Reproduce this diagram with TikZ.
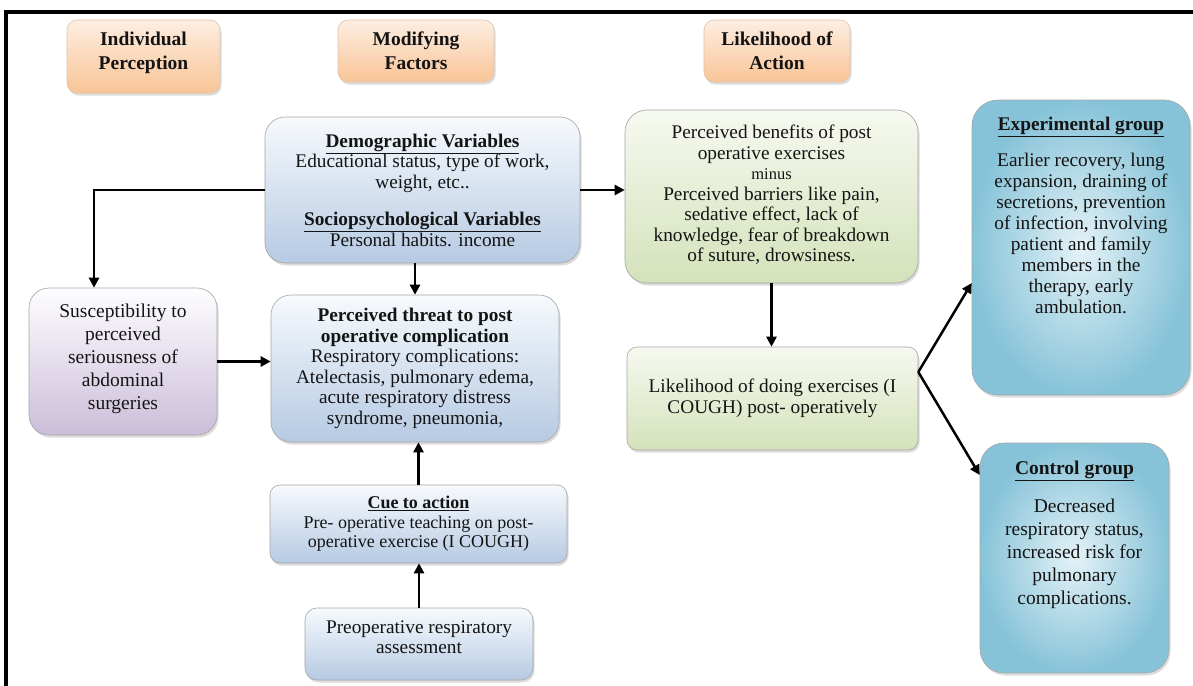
\documentclass[tikz,border=0pt]{standalone}
\usepackage{fontspec}
\setmainfont{Liberation Serif}
\usetikzlibrary{arrows.meta,shadows}
\definecolor{hdrTop}{RGB}{253,238,226}
\definecolor{hdrBot}{RGB}{249,196,150}
\definecolor{hdrLine}{RGB}{225,195,170}
\definecolor{bluTop}{RGB}{247,250,253}
\definecolor{bluBot}{RGB}{182,202,227}
\definecolor{grnTop}{RGB}{246,249,240}
\definecolor{grnBot}{RGB}{212,226,186}
\definecolor{purTop}{RGB}{254,253,255}
\definecolor{purBot}{RGB}{203,190,217}
\definecolor{tealIn}{RGB}{228,242,247}
\definecolor{tealOut}{RGB}{135,195,216}
\definecolor{boxLine}{RGB}{165,165,165}
\newcommand{\fBody}{\fontsize{19.3}{20.5}\selectfont}
\newcommand{\fBig}{\fontsize{19.5}{23}\selectfont}
\newcommand{\fCue}{\fontsize{18}{19.5}\selectfont}
\newcommand{\fHdr}{\fontsize{19.5}{24}\selectfont\bfseries}
\newcommand{\fMinus}{\fontsize{16.5}{20}\selectfont}
\tikzset{
  box/.style={draw=boxLine, line width=0.6pt, align=center, inner sep=0pt,
    text=black!92, drop shadow={shadow xshift=1.5pt, shadow yshift=-2.5pt, opacity=0.3, fill=black!45}},
  hdr/.style={box, draw=hdrLine, top color=hdrTop, bottom color=hdrBot, rounded corners=10pt, font=\fHdr},
  blu/.style={box, top color=bluTop, bottom color=bluBot, font=\fBody},
  grn/.style={box, top color=grnTop, bottom color=grnBot, font=\fBody},
  pur/.style={box, top color=purTop, bottom color=purBot, font=\fBig},
  tea/.style={box, inner color=tealIn, outer color=tealOut},
  arr/.style={line width=2.5pt, -{Triangle[length=10pt,width=10pt]}},
}
\begin{document}
\begin{tikzpicture}[x=1pt,y=-1pt]
\useasboundingbox (0,0) rectangle (1193,685);
\fill[white] (0,0) rectangle (1193,685);
\draw[line width=4pt] (6,687) -- (6,12.5) -- (1195,12.5);

% headers
\node[hdr, minimum width=153pt, minimum height=73pt, text depth=12pt] (h1) at (143.5,56.5) {Individual\\Perception};
\node[hdr, minimum width=156pt, minimum height=62pt] (h2) at (416,51) {Modifying\\Factors};
\node[hdr, minimum width=146pt, minimum height=62pt] (h3) at (777,51) {Likelihood of\\Action};

% modifying factors column
\node[blu, rounded corners=20pt, minimum width=315pt, minimum height=146pt] (demo) at (422.5,190)
  {\textbf{\underline{Demographic Variables}}\\Educational status, type of work,\\weight, etc..\\[17pt]\textbf{\underline{Sociopsychological Variables}}\\Personal habits. income};
\node[blu, rounded corners=20pt, minimum width=288pt, minimum height=147pt] (threat) at (415,368.5)
  {\textbf{Perceived threat to post}\\\textbf{operative complication}\\Respiratory complications:\\Atelectasis, pulmonary edema,\\acute respiratory distress\\syndrome, pneumonia,};
\node[blu, font=\fCue, rounded corners=10pt, minimum width=297pt, minimum height=78pt] (cue) at (418.5,524)
  {\textbf{\underline{Cue to action}}\\Pre- operative teaching on post-\\operative exercise (I COUGH)};
\node[blu, rounded corners=12pt, minimum width=228pt, minimum height=72pt, text depth=14pt] (preop) at (419,644)
  {Preoperative respiratory\\assessment};

% individual perception
\node[pur, rounded corners=20pt, minimum width=188pt, minimum height=147pt, text depth=9pt] (susc) at (123,361.5)
  {Susceptibility to\\perceived\\seriousness of\\abdominal\\surgeries};

% likelihood of action
\node[grn, rounded corners=22pt, minimum width=293pt, minimum height=173pt, text depth=6pt] (g1) at (771.5,196.5)
  {Perceived benefits of post\\operative exercises\\{\fMinus minus}\\Perceived barriers like pain,\\sedative effect, lack of\\knowledge, fear of breakdown\\of suture, drowsiness.};
\node[grn, rounded corners=10pt, minimum width=291pt, minimum height=103pt] (g2) at (772.5,398.5)
  {Likelihood of doing exercises (I\\COUGH) post- operatively};

% outcome groups
\node[tea, font=\fontsize{19.3}{21}\selectfont, rounded corners=26pt, minimum width=218pt, minimum height=295pt, text depth=64pt] (exp) at (1081,247.5)
  {\textbf{\underline{Experimental group}}\\[15pt]Earlier recovery, lung\\expansion, draining of\\secretions, prevention\\of infection, involving\\patient and family\\members in the\\therapy, early\\ambulation.};
\node[tea, font=\fBig, rounded corners=24pt, minimum width=189pt, minimum height=230pt, text depth=50pt] (ctrl) at (1074.5,558)
  {\textbf{\underline{Control group}}\\[15pt]Decreased\\respiratory status,\\increased risk for\\pulmonary\\complications.};

% connectors
\coordinate (bend) at (94,190);
\draw[arr] (demo.west) -- (bend) -- (bend |- susc.north);
\draw[arr] (demo.east) -- (demo.east -| g1.west);
\draw[arr] (threat.north |- demo.south) -- (threat.north);
\draw[arr] (susc.east) -- (susc.east -| threat.west);
\draw[arr] (cue.north) -- (cue.north |- threat.south);
\draw[arr] (preop.north) -- (preop.north |- cue.south);
\draw[arr] (g1.south) -- (g1.south |- g2.north);
\path (g2.east) ++(0,-26.5) coordinate (fork);
\path (exp.west) ++(0,35.5) coordinate (eIn);
\path (ctrl.west) ++(0,-83) coordinate (cIn);
\draw[arr] (fork) -- (eIn);
\draw[arr] (fork) -- (cIn);
\end{tikzpicture}
\end{document}
